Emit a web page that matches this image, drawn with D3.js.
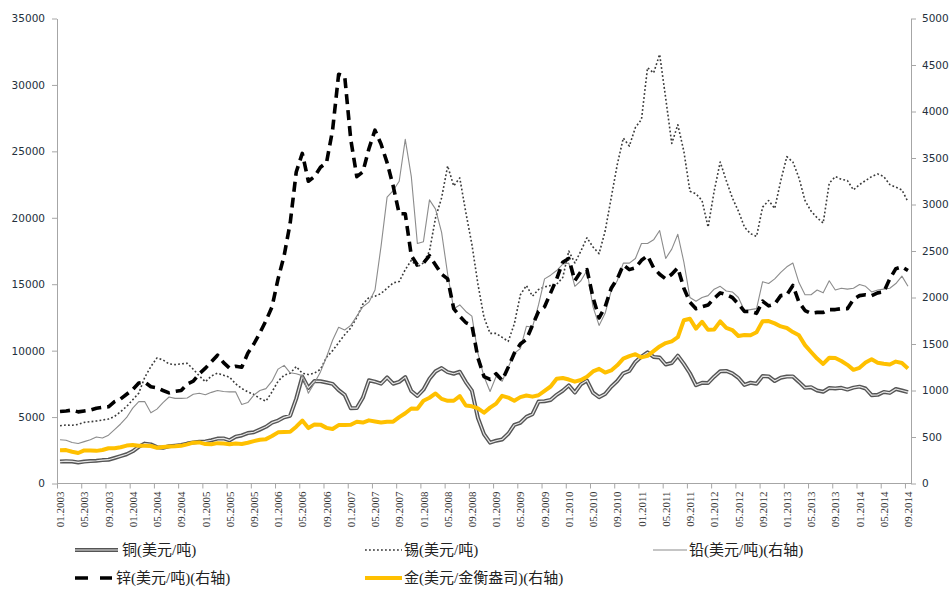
<!DOCTYPE html>
<html>
<head>
<meta charset="utf-8">
<script src="https://cdn.jsdelivr.net/npm/d3@7"></script>
<style>
  body { margin: 0; background: #fff; }
  .axis path, .axis line { stroke: #a6a6a6; }
  .yaxis text { font-family: "DejaVu Sans", sans-serif; font-size: 10.5px; fill: #24303c; }
  .xaxis text { font-family: "Liberation Serif", serif; font-size: 11px; fill: #333; }
  .legend text { font-family: "Liberation Serif", "Noto Sans CJK SC", serif; font-size: 15px; fill: #222; }
</style>
</head>
<body>
<script>
// monthly prices 01.2003 - 09.2014
var years = [2003, 2004, 2005, 2006, 2007, 2008, 2009, 2010, 2011, 2012, 2013, 2014];

var copper = [
  1648,1683,1660,1587,1650,1686,1712,1760,1791,1921,2057,2201,
  2424,2760,3002,2941,2734,2687,2808,2851,2894,3005,3094,3137,
  3170,3254,3379,3395,3249,3525,3617,3797,3857,4060,4269,4577,
  4734,4982,5103,6387,8046,7198,7712,7694,7600,7500,7030,6675,
  5670,5676,6452,7766,7662,7511,7980,7510,7650,8008,6960,6587,
  7061,7888,8439,8685,8383,8260,8414,7634,6990,4926,3717,3072,
  3220,3315,3743,4406,4569,5014,5216,6165,6196,6288,6676,6982,
  7386,6848,7463,7745,6838,6499,6735,7284,7709,8292,8470,9147,
  9556,9868,9530,9483,8960,9067,9619,9000,8300,7394,7581,7566,
  8040,8441,8471,8290,7955,7423,7584,7515,8088,8062,7711,7966,
  8047,8060,7646,7203,7253,7000,6907,7186,7159,7203,7071,7215,
  7291,7149,6650,6674,6891,6821,7113,7002,6872
];

var tin = [
  4350,4400,4380,4450,4600,4650,4700,4780,4850,5050,5400,5800,
  6300,6800,8000,8800,9450,9300,9000,8950,9000,9050,8600,8100,
  7660,8100,8300,8150,8000,7500,7150,6900,6700,6400,6200,6900,
  7700,8150,8300,8800,8300,8200,8300,8600,9500,10000,10600,11200,
  11700,12500,13500,14000,14100,14300,14700,15100,15200,16100,16800,16300,
  16600,17500,20000,21500,23900,22400,23000,20400,18000,15000,12500,11300,
  11300,11000,10700,12000,14200,14900,14100,14600,14800,14900,15000,15500,
  17500,16600,17500,18500,17800,17300,19000,21500,24000,26000,25400,26800,
  27400,31300,30900,32300,29000,25600,27000,25000,22000,21800,21300,19300,
  22000,24200,22800,21500,20500,19300,18800,18600,20800,21300,20700,22800,
  24600,24200,23000,21300,20500,20000,19600,22600,23100,22900,22800,22100,
  22500,22800,23100,23300,23100,22500,22300,22100,21200
];

var lead = [
  470,465,440,430,450,470,500,490,520,580,640,710,
  810,880,880,760,800,870,930,915,915,920,960,970,
  955,980,1000,990,985,985,850,870,950,1000,1020,1100,
  1230,1270,1190,1180,1160,970,1080,1200,1360,1540,1680,1650,
  1700,1800,1900,1950,2080,2550,3080,3150,3250,3700,3300,2580,
  2600,3050,2950,2700,2250,1880,1920,1850,1800,1400,1150,990,
  1150,1100,1250,1400,1450,1690,1680,1920,2200,2240,2290,2360,
  2370,2120,2180,2290,1900,1700,1830,2070,2180,2370,2370,2420,
  2580,2580,2620,2720,2420,2520,2680,2380,2000,1960,2000,2020,
  2090,2120,2070,2060,2000,1860,1870,1880,2170,2150,2200,2270,
  2330,2370,2160,2030,2030,2080,2050,2180,2080,2100,2090,2100,
  2140,2120,2060,2080,2090,2100,2150,2230,2120
];

var zinc = [
  775,780,790,770,780,790,810,820,825,880,910,960,
  1010,1080,1090,1040,1030,1000,975,990,1000,1070,1100,1180,
  1240,1310,1380,1300,1240,1260,1250,1400,1500,1620,1750,1900,
  2200,2450,2800,3350,3550,3250,3300,3400,3450,3800,4400,4380,
  3700,3300,3350,3600,3800,3650,3450,3200,2900,2900,2450,2350,
  2370,2450,2350,2250,2200,1880,1800,1730,1700,1350,1150,1120,
  1180,1110,1250,1400,1500,1550,1700,1850,1900,2050,2200,2380,
  2420,2180,2280,2300,2000,1780,1900,2100,2200,2350,2300,2320,
  2400,2450,2320,2250,2200,2250,2320,2100,1950,1880,1900,1920,
  1990,2050,2030,2000,1930,1850,1850,1830,1960,1910,1930,2020,
  2030,2130,1950,1860,1830,1840,1840,1870,1870,1880,1880,1980,
  2020,2030,2020,2050,2060,2200,2310,2330,2290
];

var gold = [
  357,359,341,328,356,356,351,360,379,379,390,408,
  414,405,407,403,384,392,398,400,405,421,439,442,
  424,423,434,429,422,431,425,438,456,470,477,510,
  550,555,557,611,677,596,634,633,598,586,628,630,
  631,665,655,679,667,656,665,665,713,755,806,803,
  890,922,968,910,889,890,940,839,830,807,761,816,
  859,943,924,890,929,946,934,949,997,1043,1127,1135,
  1118,1095,1113,1149,1205,1233,1193,1216,1271,1342,1370,1391,
  1356,1373,1424,1474,1510,1529,1573,1756,1772,1665,1739,1652,
  1656,1743,1674,1650,1586,1597,1594,1626,1745,1747,1722,1689,
  1672,1628,1593,1488,1414,1343,1286,1352,1349,1317,1276,1222,
  1244,1301,1336,1299,1288,1279,1311,1295,1237
];

var leftTicks = [0, 5000, 10000, 15000, 20000, 25000, 30000, 35000];
var rightTicks = [0, 500, 1000, 1500, 2000, 2500, 3000, 3500, 4000, 4500, 5000];

var names = ["铜(美元/吨)", "锡(美元/吨)", "铅(美元/吨)(右轴)", "锌(美元/吨)(右轴)", "金(美元/金衡盎司)(右轴)"];

var months = [];
years.forEach(function (y) {
  for (var m = 1; m <= 12; m++) {
    months.push((m < 10 ? "0" + m : "" + m) + "." + y);
  }
});
months = months.slice(0, copper.length);

var width = 951, height = 589;
var plotLeft = 57, plotRight = 911, plotTop = 18.5, plotBottom = 483.5;

var svg = d3.select("body").append("svg")
  .attr("width", width)
  .attr("height", height);

var x = d3.scalePoint().domain(months).range([plotLeft, plotRight]).padding(0.5);
var step = x.step();
var yL = d3.scaleLinear().domain([0, 35000]).range([plotBottom, plotTop]);
var yR = d3.scaleLinear().domain([0, 5000]).range([plotBottom, plotTop]);

// axes
var xTicks = months.filter(function (d, i) { return i % 4 == 0; });
var xAxis = svg.append("g")
  .attr("class", "axis xaxis")
  .attr("transform", "translate(0," + plotBottom + ")")
  .call(d3.axisBottom(x).tickValues(xTicks).tickSize(5).tickSizeOuter(0));
xAxis.select(".domain").attr("d", "M" + plotLeft + ",0H" + plotRight);
xAxis.selectAll(".tick line").attr("x1", -step / 2).attr("x2", -step / 2);
xAxis.selectAll(".tick text")
  .attr("transform", "rotate(-90)")
  .attr("text-anchor", "end")
  .attr("x", -8)
  .attr("y", 0)
  .attr("dy", "0.33em");

svg.append("g")
  .attr("class", "axis yaxis")
  .attr("transform", "translate(" + plotLeft + ",0)")
  .call(d3.axisLeft(yL).tickValues(leftTicks).tickSize(5).tickSizeOuter(0).tickPadding(7).tickFormat(d3.format("d")));

svg.append("g")
  .attr("class", "axis yaxis")
  .attr("transform", "translate(" + plotRight + ",0)")
  .call(d3.axisRight(yR).tickValues(rightTicks).tickSize(5).tickSizeOuter(0).tickPadding(6).tickFormat(d3.format("d")));

function line(scale) {
  return d3.line()
    .x(function (d, i) { return x(months[i]); })
    .y(function (d) { return scale(d); });
}

var plot = svg.append("g").attr("fill", "none").attr("stroke-linejoin", "round");

// copper: double line
plot.append("path").attr("d", line(yL)(copper))
  .attr("stroke", "#555").attr("stroke-width", 4);
plot.append("path").attr("d", line(yL)(copper))
  .attr("stroke", "#e6e6e6").attr("stroke-width", 1.2);

plot.append("path").attr("d", line(yL)(tin))
  .attr("stroke", "#3a3a3a").attr("stroke-width", 1.6).attr("stroke-dasharray", "1.8,2.2");

plot.append("path").attr("d", line(yR)(lead))
  .attr("stroke", "#8c8c8c").attr("stroke-width", 1.1);

plot.append("path").attr("d", line(yR)(zinc))
  .attr("stroke", "#000").attr("stroke-width", 3.6).attr("stroke-dasharray", "10,6");

plot.append("path").attr("d", line(yR)(gold))
  .attr("stroke", "#ffc000").attr("stroke-width", 4);

// legend
var legendItems = [
  { name: names[0], x: 75, y: 550, len: 43 },
  { name: names[1], x: 365, y: 550, len: 37 },
  { name: names[2], x: 653, y: 550, len: 34 },
  { name: names[3], x: 75, y: 578, len: 37 },
  { name: names[4], x: 365, y: 578, len: 37 }
];

var legend = svg.append("g").attr("class", "legend").attr("fill", "none");
legendItems.forEach(function (d, i) {
  var g = legend.append("g");
  var seg = "M" + d.x + "," + d.y + "H" + (d.x + d.len);
  if (i == 0) {
    g.append("path").attr("d", seg).attr("stroke", "#555").attr("stroke-width", 4);
    g.append("path").attr("d", seg).attr("stroke", "#e6e6e6").attr("stroke-width", 1.2);
  } else if (i == 1) {
    g.append("path").attr("d", seg).attr("stroke", "#3a3a3a").attr("stroke-width", 1.6).attr("stroke-dasharray", "1.8,2.2");
  } else if (i == 2) {
    g.append("path").attr("d", seg).attr("stroke", "#8c8c8c").attr("stroke-width", 1.1);
  } else if (i == 3) {
    g.append("path").attr("d", seg).attr("stroke", "#000").attr("stroke-width", 3.6).attr("stroke-dasharray", "13,12");
  } else {
    g.append("path").attr("d", seg).attr("stroke", "#ffc000").attr("stroke-width", 4);
  }
  g.append("text")
    .attr("x", d.x + d.len + (i == 0 || i == 3 ? 4 : 2))
    .attr("y", d.y)
    .attr("dy", "0.35em")
    .text(d.name);
});
</script>
</body>
</html>
